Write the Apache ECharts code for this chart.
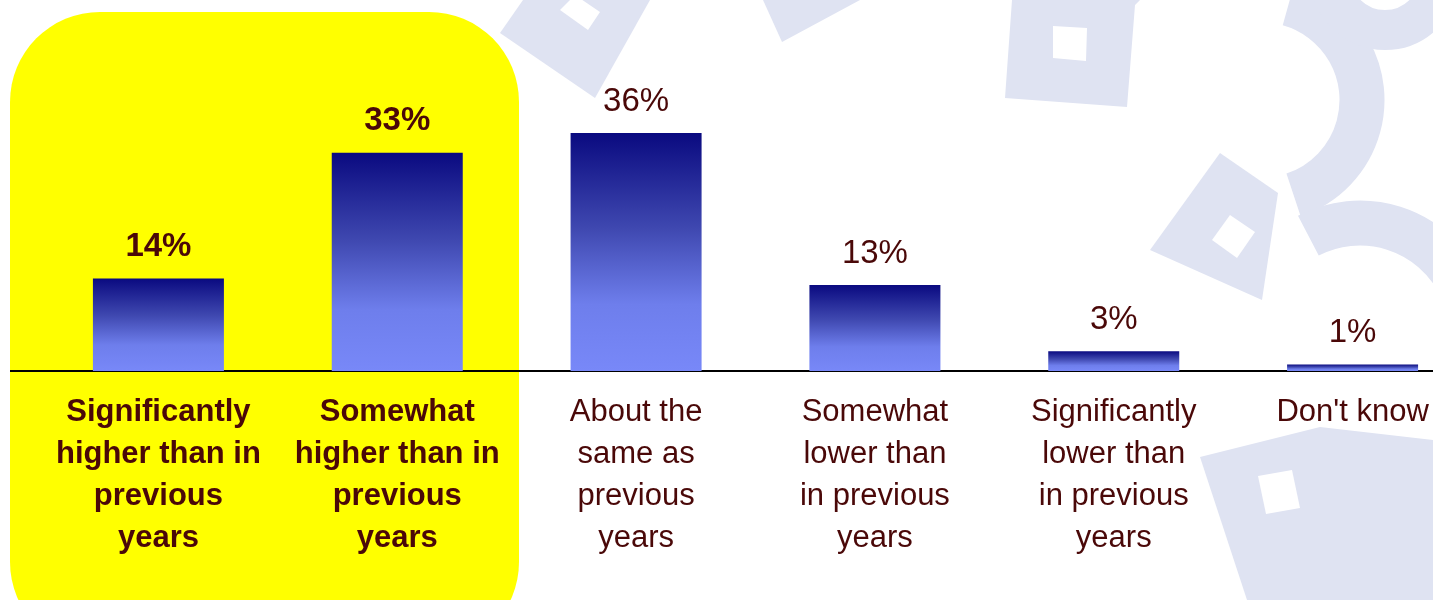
<!DOCTYPE html>
<html>
<head>
<meta charset="utf-8">
<script src="https://cdn.jsdelivr.net/npm/echarts@6/dist/echarts.min.js"></script>
<style>
  html, body { margin: 0; padding: 0; background: #fff; }
  #chart { width: 1433px; height: 600px; }
</style>
</head>
<body>
<div id="chart"></div>
<script>
// categories + values
var categories = [
    'Significantly\nhigher than in\nprevious\nyears',
    'Somewhat\nhigher than in\nprevious\nyears',
    'About the\nsame as\nprevious\nyears',
    'Somewhat\nlower than\nin previous\nyears',
    'Significantly\nlower than\nin previous\nyears',
    "Don't know"
];
var values = [14, 33, 36, 13, 3, 1];
// first two answers are highlighted (bold, on the yellow box)
var highlighted = [true, true, false, false, false, false];

var textColor = '#4a0808';
var wm = '#dfe3f2';   // pale watermark colour

var barColor = new echarts.graphic.LinearGradient(0, 0, 0, 1, [
    {offset: 0, color: '#0a0a80'},
    {offset: 0.4, color: '#3f48b0'},
    {offset: 0.72, color: '#6e7eec'},
    {offset: 1, color: '#7888f8'}
]);

var myChart = echarts.init(document.getElementById('chart'));

// background decoration: yellow highlight + watermark shapes
var graphics = [
    {type: 'polygon', z: -20, shape: {points: [[500,33],[595,98],[650,0],[523,0]]}, style: {fill: wm}},
    {type: 'polygon', z: -19, shape: {points: [[560,10],[588,30],[600,12],[575,-5]]}, style: {fill: '#fff'}},
    {type: 'polygon', z: -20, shape: {points: [[763,0],[860,0],[782,42]]}, style: {fill: wm}},
    {type: 'polygon', z: -20, shape: {points: [[1005,98],[1127,107],[1135,5],[1140,0],[1012,0]]}, style: {fill: wm}},
    {type: 'polygon', z: -19, shape: {points: [[1053,26],[1087,28],[1086,61],[1053,58]]}, style: {fill: '#fff'}},
    {type: 'polygon', z: -20, shape: {points: [[1220,153],[1278,193],[1262,300],[1150,250]]}, style: {fill: wm}},
    {type: 'polygon', z: -19, shape: {points: [[1230,215],[1255,232],[1237,258],[1212,240]]}, style: {fill: '#fff'}},
    {type: 'polygon', z: -20, shape: {points: [[1200,457],[1320,427],[1433,440],[1433,600],[1247,600]]}, style: {fill: wm}},
    {type: 'polygon', z: -19, shape: {points: [[1258,476],[1292,470],[1300,508],[1266,514]]}, style: {fill: '#fff'}},
    {type: 'arc', z: -20, shape: {cx: 1262, cy: 100, r: 100, startAngle: -1.3, endAngle: 1.25}, style: {stroke: wm, lineWidth: 45, fill: null}},
    {type: 'arc', z: -20, shape: {cx: 1385, cy: -25, r: 55, startAngle: 0, endAngle: Math.PI}, style: {stroke: wm, lineWidth: 40, fill: null}},
    {type: 'arc', z: -20, shape: {cx: 1360, cy: 335, r: 112, startAngle: -2.05, endAngle: 0.6}, style: {stroke: wm, lineWidth: 45, fill: null}},
    {type: 'rect', z: -10, shape: {x: 10, y: 12, width: 509, height: 640, r: 90}, style: {fill: '#ffff00'}},
    // baseline continues a little to the left of the plot
    {type: 'line', z: 5, shape: {x1: 10, y1: 371, x2: 40, y2: 371}, style: {stroke: '#000', lineWidth: 2}}
];

var option = {
    backgroundColor: '#fff',
    animation: false,
    graphic: graphics,
    grid: {
        left: 39,
        width: 1433,
        top: 40.5,
        bottom: 229,
        outerBoundsMode: 'none'
    },
    xAxis: {
        type: 'category',
        data: categories.map(function (c, i) {
            return {value: c, textStyle: {fontWeight: highlighted[i] ? 'bold' : 'normal'}};
        }),
        axisTick: {show: false},
        axisLine: {lineStyle: {color: '#000', width: 2}},
        axisLabel: {
            interval: 0,
            margin: 20,
            color: textColor,
            fontFamily: 'Liberation Sans, Arial, sans-serif',
            fontSize: 31,
            lineHeight: 42,
            verticalAlign: 'top'
        }
    },
    yAxis: {
        type: 'value',
        min: 0,
        max: 50,
        show: false,
        splitLine: {show: false}
    },
    series: [
        {
            type: 'bar',
            barWidth: 131,
            data: values.map(function (v, i) {
                return {value: v, label: {fontWeight: highlighted[i] ? 'bold' : 'normal'}};
            }),
            itemStyle: {color: barColor},
            label: {
                show: true,
                position: 'top',
                distance: 15,
                formatter: '{c}%',
                color: textColor,
                fontFamily: 'Liberation Sans, Arial, sans-serif',
                fontSize: 33
            }
        }
    ]
};

myChart.setOption(option);
</script>
</body>
</html>
